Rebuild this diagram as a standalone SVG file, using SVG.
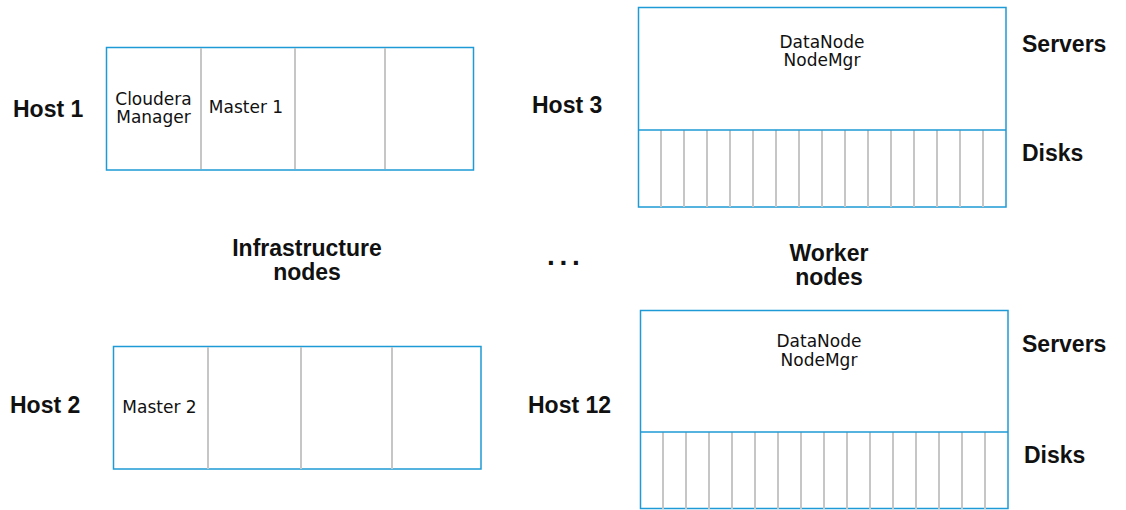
<svg xmlns="http://www.w3.org/2000/svg" width="1126" height="510" viewBox="0 0 1126 510">
<style>
.box{fill:#fff;stroke:#1e9ad6;stroke-width:1.5}
.sep{stroke:#1e9ad6;stroke-width:1.5}
.div{stroke:#c6c6c6;stroke-width:2}
.lbl{font-family:"Liberation Sans",Arial,sans-serif;font-weight:bold;font-size:23px;fill:#111}
.in{font-family:"DejaVu Sans",sans-serif;font-size:17px;fill:#111;text-anchor:middle}
.mid{text-anchor:middle}
</style>
<defs>
<g id="disks">
<path class="div" d="M23 0V77M46 0V77M69 0V77M92 0V77M115 0V77M138 0V77M161 0V77M184 0V77M207 0V77M230 0V77M253 0V77M276 0V77M299 0V77M322 0V77M345 0V77"/>
</g>
</defs>
<g id="host1">
<rect class="box" x="106.5" y="47.5" width="367" height="122.5"/>
<path class="div" d="M201 48V169M295 48V169M385 48V169"/>
<text class="in" x="153.5" y="105">Cloudera</text>
<text class="in" x="153.5" y="123">Manager</text>
<text class="in" x="246" y="113">Master 1</text>
<text class="lbl" x="13" y="117">Host 1</text>
</g>
<g id="host2">
<rect class="box" x="113.5" y="346.5" width="367.5" height="122.5"/>
<path class="div" d="M208 347V469M301 347V469M392 347V469"/>
<text class="in" x="159.5" y="413">Master 2</text>
<text class="lbl" x="10" y="413">Host 2</text>
</g>
<g id="host3">
<rect class="box" x="638.5" y="7.5" width="367.5" height="199.5"/>
<use href="#disks" x="638" y="130"/>
<line class="sep" x1="638.5" y1="130" x2="1006" y2="130"/>
<text class="in" x="822" y="48">DataNode</text>
<text class="in" x="822" y="66">NodeMgr</text>
<text class="lbl" x="532" y="113">Host 3</text>
<text class="lbl" x="1022" y="52">Servers</text>
<text class="lbl" x="1022" y="161">Disks</text>
</g>
<g id="host12">
<rect class="box" x="640.5" y="310.5" width="367.5" height="198"/>
<use href="#disks" x="640" y="432"/>
<line class="sep" x1="640.5" y1="432" x2="1008" y2="432"/>
<text class="in" x="819" y="347">DataNode</text>
<text class="in" x="819" y="366">NodeMgr</text>
<text class="lbl" x="528" y="413">Host 12</text>
<text class="lbl" x="1022" y="352">Servers</text>
<text class="lbl" x="1024" y="463">Disks</text>
</g>
<g id="labels">
<text class="lbl mid" x="307" y="256">Infrastructure</text>
<text class="lbl mid" x="307" y="280">nodes</text>
<text class="lbl mid" x="829" y="261">Worker</text>
<text class="lbl mid" x="829" y="285">nodes</text>
<text class="lbl" x="547" y="265" style="font-size:28px;letter-spacing:4.7px">...</text>
</g>
<g id="connectors"/>
</svg>
